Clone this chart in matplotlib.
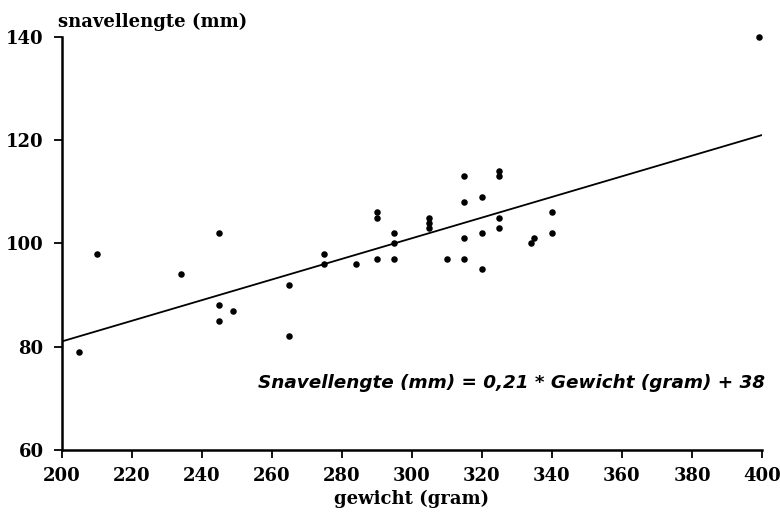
import matplotlib
matplotlib.use("Agg")
import matplotlib.pyplot as plt
import numpy as np

# data
gewicht = [205, 210, 234, 245, 245, 245, 249, 265, 265, 275, 275, 284,
           290, 290, 290, 295, 295, 295, 305, 305, 305, 310,
           315, 315, 315, 315, 320, 320, 320, 325, 325, 325, 325,
           334, 335, 340, 340, 399]
snavel = [79, 98, 94, 102, 88, 85, 87, 92, 82, 98, 96, 96,
          106, 105, 97, 102, 100, 97, 105, 104, 103, 97,
          113, 108, 101, 97, 109, 102, 95, 114, 113, 105, 103,
          100, 101, 106, 102, 140]
slope = 0.2
intercept = 41
x_ticks = [200, 220, 240, 260, 280, 300, 320, 340, 360, 380, 400]
y_ticks = [60, 80, 100, 120, 140]

fig = plt.figure(figsize=(7.8, 5.13), dpi=100)
ax = fig.add_axes([0.079, 0.123, 0.898, 0.805])

ax.scatter(gewicht, snavel, s=22, color="black", marker="o", linewidths=0,
           zorder=3, clip_on=False)
xl = np.array([200, 400])
ax.plot(xl, slope * xl + intercept, color="black", lw=1.3)

ax.set_xlim(200, 400)
ax.set_ylim(60, 140)
ax.set_xticks(x_ticks)
ax.set_yticks(y_ticks)
for s in ["top", "right"]:
    ax.spines[s].set_visible(False)
for s in ["left", "bottom"]:
    ax.spines[s].set_linewidth(1.8)
ax.tick_params(axis="both", direction="out", length=6, width=1.3, labelsize=13)
lab_font = dict(family="DejaVu Serif", weight="bold")
for t in ax.get_xticklabels() + ax.get_yticklabels():
    t.set_fontfamily("DejaVu Serif")
    t.set_fontweight("bold")
ax.tick_params(axis="x", pad=6)
ax.tick_params(axis="y", pad=7)

ax.set_xlabel("gewicht (gram)", fontsize=13, labelpad=4, **lab_font)
fig.text(0.075, 0.958, "snavellengte (mm)", fontsize=13, ha="left", va="center", **lab_font)

ax.text(1.004, 0.163, "Snavellengte (mm) = 0,21 * Gewicht (gram) + 38",
        transform=ax.transAxes, ha="right", va="center", fontsize=13.2,
        family="DejaVu Sans", weight="bold", style="italic")

fig.savefig("out.png", dpi=100)
